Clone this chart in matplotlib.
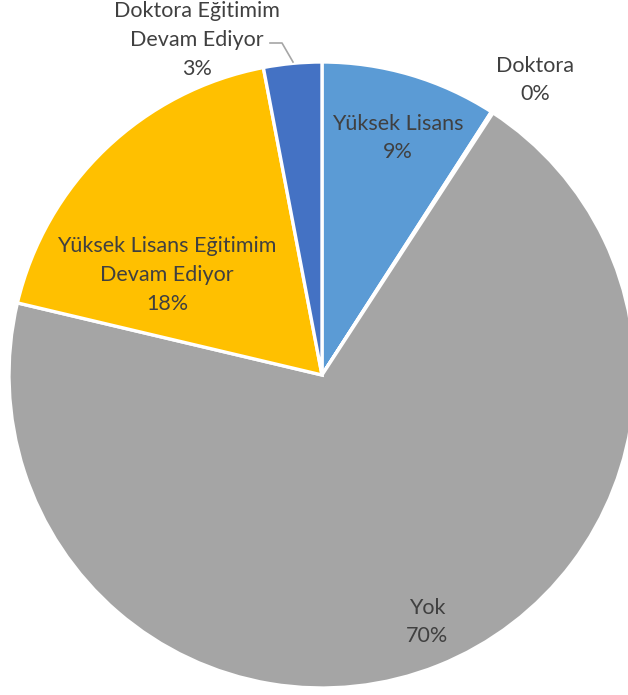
import matplotlib
matplotlib.use("Agg")
import matplotlib.pyplot as plt

categories = ["Yüksek Lisans", "Doktora", "Yok",
              "Yüksek Lisans Eğitimim\nDevam Ediyor",
              "Doktora Eğitimim\nDevam Ediyor"]
values = [9.1, 0.1, 69.5, 18.3, 3.0]
colors = ["#5B9BD5", "#ED7D31", "#A5A5A5", "#FFC000", "#4472C4"]

W, H = 628, 695
fig = plt.figure(figsize=(W / 100, H / 100), dpi=100)
ax = fig.add_axes([0, 0, 1, 1])

cx, cy, r = 322, H - 375, 313
ax.pie(values, colors=colors, startangle=90, counterclock=False,
       center=(cx, cy), radius=r, frame=True,
       wedgeprops=dict(edgecolor="white", linewidth=2.4))
ax.set_xlim(0, W)
ax.set_ylim(0, H)
ax.set_aspect("equal")
ax.axis("off")

total = sum(values)
label_pos = [(398, 138), (535, 80), (427, 622), (167, 275), (197, 40)]
for cat, v, (x, y) in zip(categories, values, label_pos):
    ax.text(x, H - y, f"{cat}\n{v / total * 100:.0f}%", ha="center", va="center",
            fontsize=15.5, color="#404040", family=["Lato", "DejaVu Sans"],
            linespacing=1.55)

# leader line for the small slice
ax.plot([270, 282, 293], [H - 43, H - 43, H - 62], color="#A6A6A6", lw=1.2)

fig.savefig("out.png", dpi=100)
